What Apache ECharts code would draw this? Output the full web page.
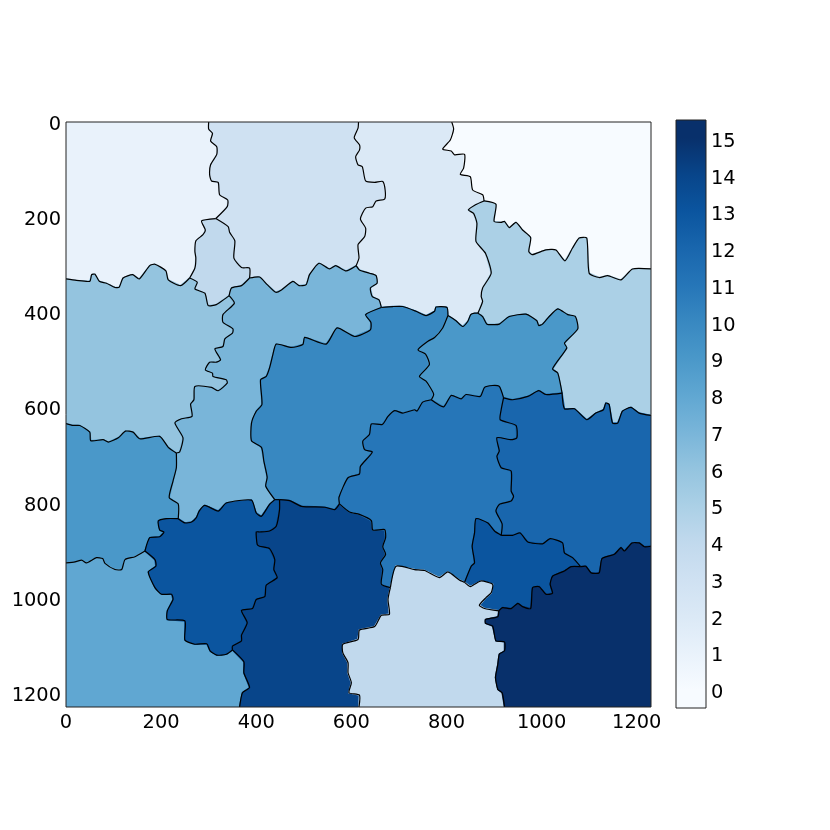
<!DOCTYPE html>
<html>
<head>
<meta charset="utf-8">
<script src="https://cdn.jsdelivr.net/npm/echarts@6/dist/echarts.min.js"></script>
<style>
html, body { margin: 0; padding: 0; background: #fff; }
#chart { width: 830px; height: 830px; }
</style>
</head>
<body>
<div id="chart"></div>
<script>
// tick labels
var xTicks = [0, 200, 400, 600, 800, 1000, 1200];
var yTicks = [0, 200, 400, 600, 800, 1000, 1200];
var barTicks = [0, 1, 2, 3, 4, 5, 6, 7, 8, 9, 10, 11, 12, 13, 14, 15];

// Blues, one colour per label value
var levelColors = ['#f7fbff', '#e9f2fb', '#dbe9f6', '#cfe1f2', '#c1d9ed', '#abd0e6', '#94c4df', '#79b5d9',
    '#60a7d2', '#4a98c9', '#3888c1', '#2676b8', '#1966ad', '#0b559f', '#08458a', '#08306b'];

// boundaries between two segments, image pixels of the original picture (x, y)
var b1 = [[300,0],[300,15],[308,24],[304,40],[317,52],[317,68],[304,90],[302,111],[306,124],[320,127],[323,153],[340,164],[339,178],[315,203]];
var b2 = [[315,203],[285,208],[293,227],[288,237],[273,250],[271,272],[273,286],[271,307],[260,328]];
var b3 = [[315,203],[341,220],[344,232],[355,250],[353,286],[369,306],[386,307],[386,328]];
var b4 = [[260,328],[276,337],[271,351],[292,360],[299,386],[316,384],[343,365]];
var b5 = [[343,365],[348,349],[369,344],[386,328]];
var b6 = [[0,330],[22,333],[50,335],[54,321],[61,320],[70,335],[85,339],[103,348],[112,347],[120,328],[140,321],[154,330],[176,302],[187,299],[210,313],[215,332],[241,344],[260,328]];
var b7 = [[386,328],[407,326],[423,342],[441,358],[453,353],[477,335],[490,344],[505,342],[512,321],[532,297],[554,309],[567,302],[589,313],[610,302]];
var b8 = [[615,0],[614,13],[606,33],[617,48],[617,59],[609,73],[614,90],[623,94],[630,124],[649,127],[666,125],[671,143],[670,162],[652,166],[645,178],[630,181],[619,204],[630,223],[628,241],[614,258],[616,286],[610,302]];
var b9 = [[610,302],[617,311],[638,318],[652,323],[654,339],[640,349],[644,367],[658,374],[663,390]];
var b10 = [[663,390],[687,388],[708,388],[736,398],[757,407],[775,398],[778,389],[801,390],[803,407]];
var b11 = [[803,407],[820,418],[834,430],[845,419],[851,405],[859,402],[866,402]];
var b12 = [[879,166],[861,174],[846,185],[857,192],[864,213],[862,251],[882,276],[894,318],[876,349],[873,367],[876,377],[866,402]];
var b13 = [[811,0],[815,15],[808,38],[792,57],[810,61],[817,69],[838,68],[836,97],[829,110],[850,115],[855,143],[876,153],[879,166]];
var b14 = [[879,166],[904,173],[900,209],[915,211],[922,209],[932,222],[946,211],[960,227],[977,243],[973,272],[980,279],[1009,269],[1030,269],[1049,292],[1065,265],[1079,244],[1095,244],[1100,318],[1121,327],[1139,323],[1167,332],[1191,309],[1230,309]];
var b15 = [[866,402],[876,409],[885,425],[901,426],[911,425],[932,409],[967,404],[990,418],[994,428],[1002,425],[1016,409],[1034,393],[1055,405],[1071,409],[1076,435],[1048,465],[1053,475],[1023,519],[1034,528],[1043,570]];
var b16 = [[1043,570],[1048,603],[1069,603],[1095,626],[1114,612],[1130,605],[1135,591],[1142,594],[1149,633],[1160,633],[1170,608],[1188,600],[1205,612],[1230,617]];
var b17 = [[1043,570],[1009,573],[994,565],[971,577],[939,584],[920,580]];
var b18 = [[920,580],[911,556],[897,554],[880,558],[871,577],[841,573],[831,582],[810,575],[794,599],[768,584]];
var b19 = [[803,407],[792,433],[775,453],[761,461],[740,479],[756,488],[764,510],[743,535],[757,545],[773,572],[768,584]];
var b20 = [[663,390],[630,405],[641,421],[640,437],[607,451],[570,433],[547,467],[502,453],[498,468],[474,474],[442,467],[435,489],[428,517],[421,535],[409,542],[412,594],[400,608],[390,633],[390,670],[411,684],[416,713],[423,747],[420,766],[439,794]];
var b21 = [[236,834],[250,843],[264,841],[274,832],[280,818],[292,806],[320,818],[337,801],[390,795],[400,822],[411,829],[428,804],[439,794]];
var b22 = [[343,365],[354,381],[330,405],[330,421],[351,435],[350,444],[334,456],[330,472],[313,477],[325,500],[316,505],[302,505],[293,521],[308,528],[309,535],[337,542],[339,549],[320,565],[306,558],[271,556],[269,584],[262,593],[265,619],[243,624],[229,633],[246,664],[239,694],[232,696]];
var b23 = [[0,634],[15,638],[29,638],[50,652],[52,670],[78,668],[89,673],[110,664],[125,650],[141,652],[155,666],[197,661],[215,684],[232,696]];
var b24 = [[232,696],[232,727],[225,755],[217,790],[236,803],[236,834]];
var b25 = [[0,927],[19,925],[33,921],[43,927],[64,916],[77,918],[82,928],[103,941],[117,941],[124,920],[145,914],[166,902]];
var b26 = [[236,834],[211,834],[194,839],[197,858],[206,862],[197,872],[176,874],[166,902]];
var b27 = [[166,902],[187,920],[189,934],[173,946],[187,979],[201,993],[222,993],[225,1004],[213,1028],[213,1046],[250,1049],[250,1089],[271,1098],[296,1097],[303,1112],[317,1121],[337,1119],[350,1110]];
var b28 = [[350,1110],[374,1135],[374,1158],[386,1189],[371,1200],[365,1230]];
var b29 = [[449,794],[449,815],[442,850],[428,860],[407,862],[400,862],[402,888],[407,892],[428,897],[439,920],[437,941],[444,958],[421,974],[418,998],[400,1004],[392,1023],[369,1027],[381,1053],[369,1079],[369,1091],[350,1102],[350,1110]];
var b30 = [[439,794],[449,794]];
var b31 = [[449,794],[470,796],[495,808],[544,810],[565,815],[575,803]];
var b32 = [[575,803],[574,789],[593,748],[617,740],[619,724],[644,694],[628,689],[624,671],[638,657],[642,635],[665,636],[677,619],[691,607],[708,612],[733,605],[738,608],[750,589],[768,584]];
var b33 = [[575,803],[596,820],[617,825],[642,838],[645,858],[670,857],[672,874],[666,893],[672,909],[661,927],[666,941],[663,972],[682,979]];
var b34 = [[682,979],[694,934],[733,941],[754,943],[785,958],[803,946],[827,963],[838,968]];
var b35 = [[838,968],[852,934],[859,927],[854,892],[859,864],[862,834],[887,843],[901,860],[915,869]];
var b36 = [[920,580],[915,605],[913,626],[946,638],[948,664],[936,668],[906,664],[911,692],[906,703],[915,727],[936,734],[936,776],[941,787],[936,797],[911,804],[904,818],[917,845],[915,869]];
var b37 = [[915,869],[939,869],[955,864],[971,883],[1002,887],[1018,876],[1044,885],[1048,906],[1065,916],[1082,935]];
var b38 = [[1082,935],[1093,934],[1104,948],[1121,948],[1127,918],[1153,909],[1167,895],[1174,902],[1190,885],[1205,885],[1216,893],[1230,892]];
var b39 = [[1082,935],[1062,935],[1048,944],[1023,955],[1018,972],[1023,991],[1009,993],[995,977],[981,979],[977,1023],[960,1019],[950,1012],[936,1023],[918,1021],[910,1028]];
var b40 = [[838,968],[850,977],[859,972],[873,965],[897,972],[894,990],[883,1000],[869,1016],[880,1023],[910,1028]];
var b41 = [[910,1028],[908,1040],[882,1046],[882,1054],[897,1060],[904,1091],[922,1093],[922,1112],[911,1119],[908,1140],[903,1168],[908,1193],[917,1200],[922,1230]];
var b42 = [[682,979],[677,1004],[680,1035],[663,1037],[649,1061],[617,1068],[614,1088],[582,1098],[582,1116],[593,1137],[593,1158],[600,1179],[595,1200],[617,1205],[616,1230]];

var allEdges = [b1,b2,b3,b4,b5,b6,b7,b8,b9,b10,b11,b12,b13,b14,b15,b16,b17,b18,b19,b20,b21,b22,b23,b24,b25,b26,b27,b28,b29,b30,b31,b32,b33,b34,b35,b36,b37,b38,b39,b40,b41,b42];

function rev(a) {
    return a.slice().reverse();
}

// label value of each segment and the ring of boundaries around it
var regionValues = [1, 3, 2, 0, 4, 5, 6, 7, 10, 9, 9, 8, 13, 14, 11, 12, 13, 4, 15];
var regionRings = [
    [[[0,0]], b1, b2, rev(b6)],
    [b8, rev(b7), rev(b3), rev(b1)],
    [b13, b12, rev(b11), rev(b10), rev(b9), rev(b8)],
    [[[1230,0]], rev(b14), rev(b13)],
    [b3, rev(b5), rev(b4), rev(b2)],
    [b14, rev(b16), rev(b15), rev(b12)],
    [b6, b4, b22, rev(b23)],
    [b7, b9, b20, rev(b21), rev(b24), rev(b22), b5],
    [b10, b19, rev(b32), rev(b31), rev(b30), rev(b20)],
    [b11, b15, b17, b18, rev(b19)],
    [b23, b24, b26, rev(b25)],
    [b25, b27, b28, [[0,1230]]],
    [b21, b30, b29, rev(b27), rev(b26)],
    [b31, b33, b42, rev(b28), rev(b29)],
    [b32, rev(b18), b36, rev(b35), rev(b34), rev(b33)],
    [rev(b17), b16, rev(b38), rev(b37), rev(b36)],
    [b35, b37, b39, rev(b40)],
    [b34, b40, b41, rev(b42)],
    [b38, [[1230,1230]], rev(b41), rev(b39)]
];
var regionPolygons = regionRings.map(function(ring) {
    return [].concat.apply([], ring);
});

var chart = echarts.init(document.getElementById('chart'));

var labelFont = 'DejaVu Sans';
var labelSize = 19.4;

function hiddenAxisBits() {
    return { axisLine: { show: false }, axisTick: { show: false }, splitLine: { show: false } };
}

function plainNumber(v) {
    return String(v);
}

// colourbar gradient, each level sits in the middle of its band
var barStops = levelColors.map(function(c, i) {
    return { offset: (15 - i + 0.5) / 16, color: c };
}).reverse();

var option = {
    animation: false,
    backgroundColor: '#fff',
    grid: [
        { left: 66, top: 122, width: 585, height: 585 },
        { left: 676, top: 120, width: 30, height: 588 }
    ],
    xAxis: [
        Object.assign({
            type: 'value', gridIndex: 0, min: 0, max: 1230, position: 'bottom',
            axisLabel: { customValues: xTicks, formatter: plainNumber, margin: 6, color: '#000', fontFamily: labelFont, fontSize: labelSize }
        }, hiddenAxisBits()),
        Object.assign({ type: 'value', gridIndex: 1, min: 0, max: 1, axisLabel: { show: false } }, hiddenAxisBits())
    ],
    yAxis: [
        Object.assign({
            type: 'value', gridIndex: 0, min: 0, max: 1230, inverse: true,
            // short line box with top alignment drops the text a few px below its tick
            axisLabel: { customValues: yTicks, formatter: plainNumber, margin: 5, verticalAlign: 'top', lineHeight: 6, color: '#000', fontFamily: labelFont, fontSize: labelSize }
        }, hiddenAxisBits()),
        Object.assign({
            type: 'value', gridIndex: 1, min: -0.5, max: 15.5, position: 'right',
            axisLabel: { customValues: barTicks, formatter: plainNumber, margin: 5, verticalAlign: 'top', lineHeight: 7, color: '#000', fontFamily: labelFont, fontSize: labelSize }
        }, hiddenAxisBits())
    ],
    series: [
        {
            // filled segments
            type: 'custom', xAxisIndex: 0, yAxisIndex: 0, silent: true, clip: true, z: 2,
            data: regionValues.map(function(v, i) { return [i, v]; }),
            renderItem: function(params, api) {
                var color = levelColors[api.value(1)];
                return {
                    type: 'polygon',
                    shape: { points: regionPolygons[api.value(0)].map(function(p) { return api.coord(p); }) },
                    style: { fill: color, stroke: color, lineWidth: 1.5 }
                };
            }
        },
        {
            // boundaries on top of the fills
            type: 'custom', xAxisIndex: 0, yAxisIndex: 0, silent: true, clip: true, z: 3,
            data: allEdges.map(function(e, i) { return [i]; }),
            renderItem: function(params, api) {
                return {
                    type: 'polyline',
                    shape: { points: allEdges[api.value(0)].map(function(p) { return api.coord(p); }), smooth: 0.2 },
                    style: { fill: null, stroke: '#000', lineWidth: 1.2, lineJoin: 'round' }
                };
            }
        },
        {
            // frame of the image
            type: 'custom', xAxisIndex: 0, yAxisIndex: 0, silent: true, clip: false, z: 4,
            data: [[0, 0, 1230, 1230]],
            renderItem: function(params, api) {
                var a = api.coord([api.value(0), api.value(1)]);
                var b = api.coord([api.value(2), api.value(3)]);
                return {
                    type: 'rect',
                    shape: { x: a[0], y: a[1], width: b[0] - a[0], height: b[1] - a[1] },
                    style: { fill: null, stroke: '#222', lineWidth: 1 }
                };
            }
        },
        {
            // colourbar
            type: 'custom', xAxisIndex: 1, yAxisIndex: 1, silent: true, clip: false, z: 2,
            data: [[0, 15.5, 1, -0.5]],
            renderItem: function(params, api) {
                var a = api.coord([api.value(0), api.value(1)]);
                var b = api.coord([api.value(2), api.value(3)]);
                return {
                    type: 'rect',
                    shape: { x: a[0], y: a[1], width: b[0] - a[0], height: b[1] - a[1] },
                    style: {
                        fill: new echarts.graphic.LinearGradient(0, 0, 0, 1, barStops),
                        stroke: '#222',
                        lineWidth: 1
                    }
                };
            }
        }
    ]
};

chart.setOption(option);
</script>
</body>
</html>
